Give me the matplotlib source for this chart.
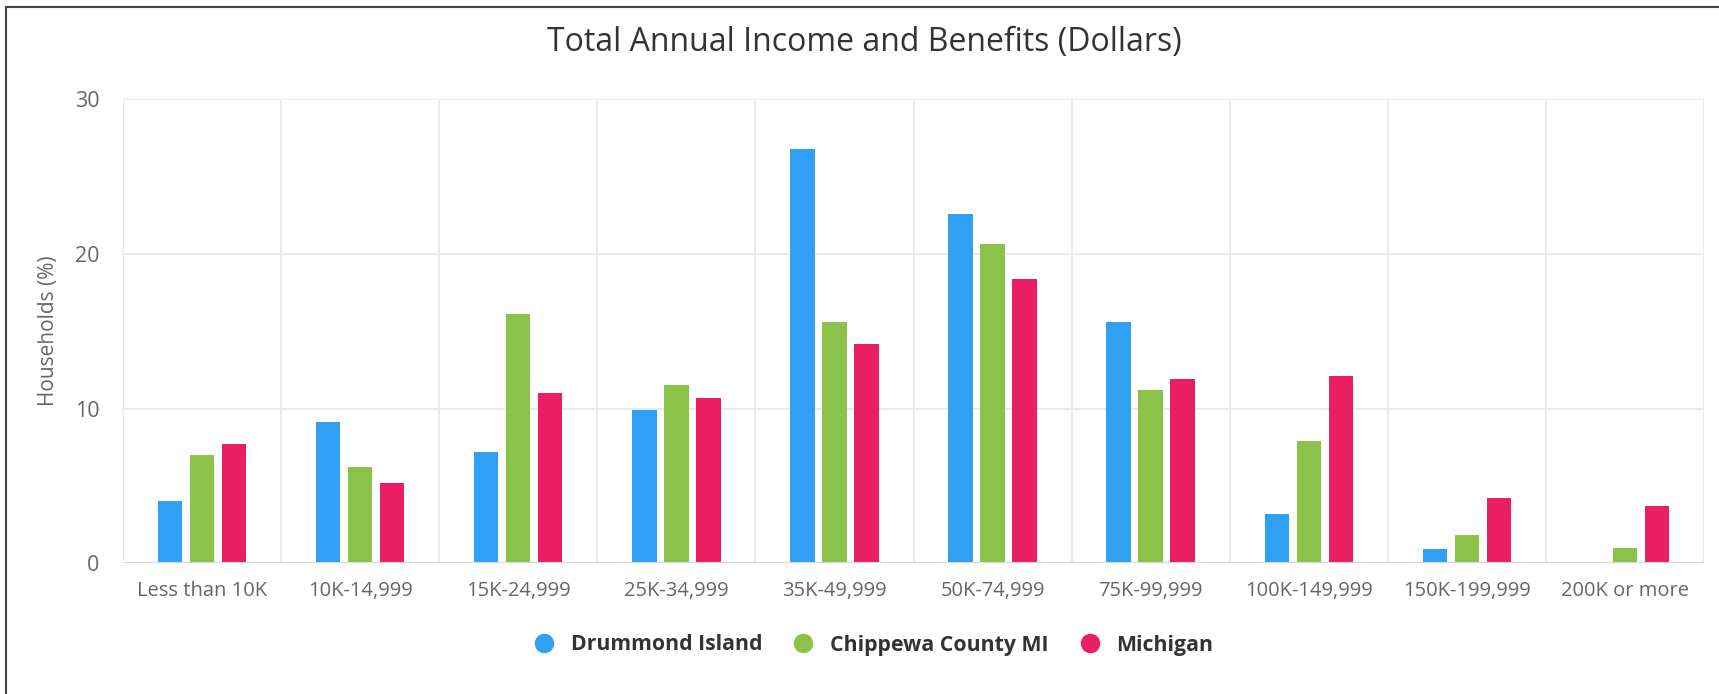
import matplotlib
matplotlib.use("Agg")
import matplotlib.pyplot as plt
from matplotlib.lines import Line2D
import numpy as np

categories = ["Less than 10K", "10K-14,999", "15K-24,999", "25K-34,999", "35K-49,999",
              "50K-74,999", "75K-99,999", "100K-149,999", "150K-199,999", "200K or more"]
drummond = [4.0, 9.1, 7.2, 9.9, 26.8, 22.6, 15.6, 3.2, 0.9, 0.0]
chippewa = [7.0, 6.2, 16.1, 11.5, 15.6, 20.6, 11.2, 7.9, 1.8, 1.0]
michigan = [7.7, 5.2, 11.0, 10.7, 14.2, 18.4, 11.9, 12.1, 4.2, 3.7]
series_names = ["Drummond Island", "Chippewa County MI", "Michigan"]
series_colors = ["#30a0f4", "#8bc34a", "#e91e63"]

plt.rcParams["font.family"] = ["Open Sans", "DejaVu Sans"]

W, H = 1719, 694
fig = plt.figure(figsize=(W / 100, H / 100), dpi=100)
ax = fig.add_axes([123 / W, 1 - 563.3 / H, (1704 - 123) / W, (563.3 - 99) / H])

x = np.arange(len(categories))
pitch = 0.2024
width = 0.154
for k, (vals, color) in enumerate(zip([drummond, chippewa, michigan], series_colors)):
    ax.bar(x + (k - 1) * pitch, vals, width=width, color=color, zorder=3)

ax.set_xlim(-0.5, len(categories) - 0.5)
ax.set_ylim(0, 30)
ax.set_yticks([0, 10, 20, 30])
ax.set_xticks(x)
ax.set_xticklabels(categories)

# grid: horizontal at ticks, vertical at category boundaries
for yv in [10, 20, 30]:
    ax.axhline(yv, color="#e6e6e6", linewidth=1.2, zorder=1)
for b in np.arange(-0.5, len(categories), 1.0):
    ax.axvline(b, color="#e6e6e6", linewidth=1.2, zorder=1)
ax.axhline(0, color="#d8d8d8", linewidth=1.5, zorder=4)

for s in ax.spines.values():
    s.set_visible(False)
ax.tick_params(axis="both", length=0, colors="#666666")
ax.tick_params(axis="x", pad=13, labelsize=14.5)
ax.tick_params(axis="y", pad=17, labelsize=15.5)

ax.set_ylabel("Households (%)", fontsize=15, color="#666666", labelpad=11)

fig.text(0.503, 1 - 43 / H, "Total Annual Income and Benefits (Dollars)",
         ha="center", va="center", fontsize=23, color="#333333")

handles = [Line2D([0], [0], marker="o", linestyle="none", markersize=13,
                  markerfacecolor=c, markeredgecolor=c) for c in series_colors]
leg = fig.legend(handles, series_names, loc="center", bbox_to_anchor=(0.505, 1 - 645 / H),
                 ncol=3, frameon=False, handletextpad=0.25, columnspacing=0.95,
                 prop={"weight": "bold", "size": 15.3})
for t in leg.get_texts():
    t.set_color("#333333")

# outer frame (only left and top visible in the crop)
fig.add_artist(Line2D([6 / W, 6 / W], [0, 1 - 7 / H], color="#444444", linewidth=1.5))
fig.add_artist(Line2D([6 / W, 1], [1 - 7 / H, 1 - 7 / H], color="#444444", linewidth=1.5))

fig.savefig("out.png", dpi=100)
